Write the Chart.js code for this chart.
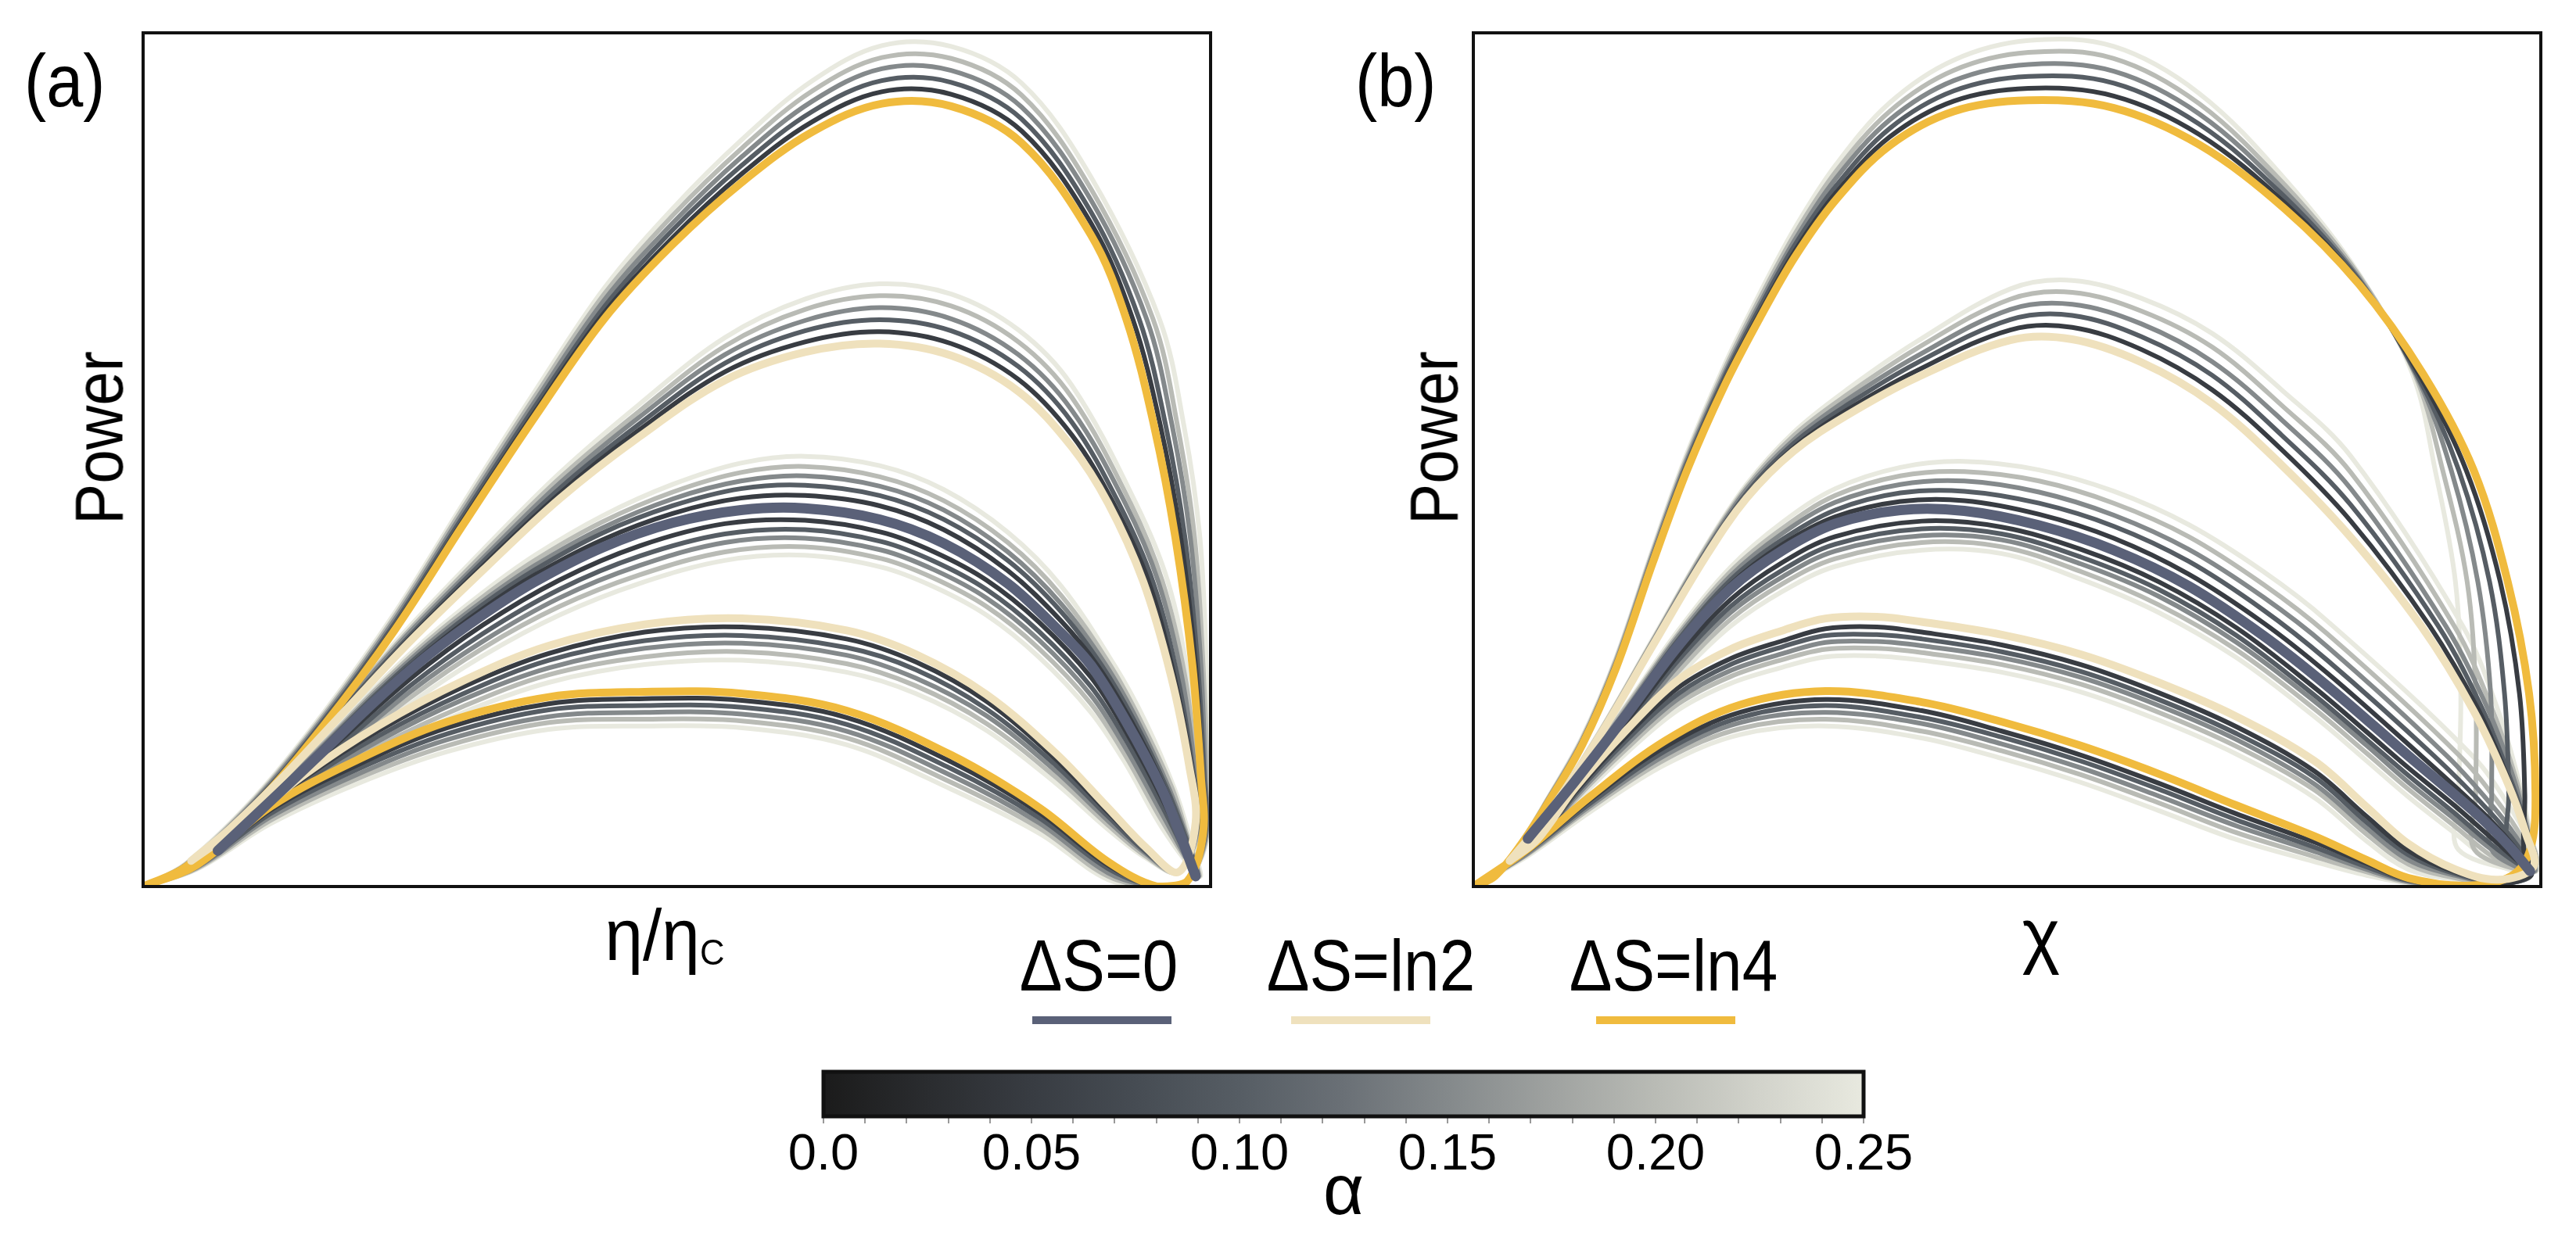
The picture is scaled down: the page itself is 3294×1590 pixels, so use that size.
<!DOCTYPE html>
<html>
<head>
<meta charset="utf-8">
<title>Power</title>
<script src="https://cdn.jsdelivr.net/npm/chart.js@4.4.1/dist/chart.umd.min.js"></script>
<style>
  html, body { margin: 0; padding: 0; background: #fff; }
  body { position: relative; width: 3294px; height: 1590px; overflow: hidden;
         font-family: "Liberation Sans", Arial, sans-serif; color: #000; }
  canvas { position: absolute; }
  .txt { position: absolute; white-space: nowrap; line-height: 1; }
  .key { position: absolute; height: 10px; }
</style>
</head>
<body>
<canvas id="panelA" width="1650" height="1180" style="left:0;top:0"></canvas>
<canvas id="panelB" width="1644" height="1180" style="left:1650px;top:0"></canvas>
<canvas id="cbar" width="1450" height="250" style="left:1000px;top:1340px"></canvas>

<div class="txt" style="left:31px;top:57px;font-size:94px;transform-origin:left center;transform:scaleX(0.9)">(a)</div>
<div class="txt" style="left:1733px;top:57px;font-size:94px;transform-origin:left center;transform:scaleX(0.9)">(b)</div>
<div class="txt" style="left:126px;top:560px;font-size:87px;transform:translate(-50%,-50%) rotate(-90deg) scaleX(0.9)">Power</div>
<div class="txt" style="left:1833px;top:560px;font-size:87px;transform:translate(-50%,-50%) rotate(-90deg) scaleX(0.9)">Power</div>
<div class="txt" style="left:850px;top:1150px;font-size:92px;transform:translateX(-50%) scaleX(0.95)">η/η<span style="font-size:0.5em;vertical-align:-0.12em">C</span></div>
<div class="txt" style="left:2610px;top:1150px;font-size:92px;transform:translateX(-50%)">χ</div>
<div id="legend"></div>

<script>
// alpha values of the grey curves, colour scale of the bar
const ALPHAS = [0, 0.05, 0.10, 0.15, 0.20, 0.25];
const CMAP_STOPS = [0, 0.025, 0.05, 0.075, 0.10, 0.125, 0.15, 0.175, 0.20, 0.225, 0.25];
const CMAP = ['#1b1b1b', '#2a2c2f', '#383c42', '#464c53', '#565d64', '#6a7076',
              '#84898b', '#9fa2a0', '#b9bbb5', '#d2d3cb', '#e8e9df'];
const TICK_LABELS = ['0.0', '0.05', '0.10', '0.15', '0.20', '0.25'];
const DS_LABELS = ['ΔS=0', 'ΔS=ln2', 'ΔS=ln4'];
const DS_COLORS = ['#5a6178', '#efe1bd', '#f0bb3e'];

// every curve is a loop: vertex -> upper branch (y at ux) -> steep part (x at sy) -> lower branch (y at lx) -> vertex
// row 0 is alpha = 0 (coloured), rows 1..5 are alpha = 0.05 .. 0.25

// ---- panel (a), x = eta/eta_C ----
const A0_V = [0.070, 0.042];
const A0_UX = [0.121, 0.170, 0.219, 0.268, 0.318, 0.367, 0.430, 0.496, 0.560, 0.620, 0.690, 0.750, 0.810, 0.860];
const A0_UY = [
  [0.102, 0.160, 0.219, 0.272, 0.318, 0.357, 0.397, 0.426, 0.441, 0.443, 0.430, 0.402, 0.355, 0.297],
  [0.104, 0.163, 0.223, 0.277, 0.325, 0.365, 0.406, 0.437, 0.455, 0.458, 0.446, 0.418, 0.370, 0.311],
  [0.105, 0.165, 0.226, 0.281, 0.330, 0.371, 0.414, 0.446, 0.466, 0.470, 0.458, 0.430, 0.382, 0.322],
  [0.106, 0.167, 0.229, 0.285, 0.334, 0.376, 0.420, 0.454, 0.475, 0.481, 0.469, 0.441, 0.392, 0.331],
  [0.107, 0.169, 0.232, 0.289, 0.339, 0.382, 0.427, 0.462, 0.485, 0.492, 0.480, 0.452, 0.403, 0.341],
  [0.108, 0.171, 0.235, 0.293, 0.344, 0.388, 0.434, 0.471, 0.496, 0.504, 0.493, 0.465, 0.415, 0.352]];
const A0_SY = [0.259, 0.193, 0.115, 0.056, 0.012];
const A0_SX = [
  [0.888, 0.921, 0.954, 0.973, 0.986],
  [0.894, 0.926, 0.957, 0.975, 0.987],
  [0.898, 0.929, 0.959, 0.977, 0.988],
  [0.902, 0.932, 0.961, 0.978, 0.988],
  [0.906, 0.935, 0.964, 0.979, 0.989],
  [0.910, 0.939, 0.966, 0.981, 0.990]];
const A0_LX = [0.955, 0.920, 0.888, 0.839, 0.790, 0.741, 0.692, 0.620, 0.545, 0.465, 0.390, 0.318, 0.250, 0.180, 0.121];
const A0_LY = [
  null,
  [0.102, 0.183, 0.245, 0.310, 0.359, 0.392, 0.415, 0.429, 0.425, 0.399, 0.359, 0.306, 0.243, 0.166, 0.099],
  [0.093, 0.173, 0.234, 0.299, 0.348, 0.381, 0.404, 0.418, 0.413, 0.387, 0.348, 0.296, 0.235, 0.160, 0.096],
  [0.084, 0.163, 0.224, 0.289, 0.338, 0.371, 0.394, 0.408, 0.403, 0.376, 0.338, 0.287, 0.228, 0.155, 0.093],
  [0.076, 0.154, 0.214, 0.279, 0.328, 0.361, 0.384, 0.398, 0.392, 0.365, 0.328, 0.279, 0.221, 0.151, 0.091],
  [0.068, 0.145, 0.204, 0.269, 0.318, 0.351, 0.374, 0.388, 0.382, 0.355, 0.318, 0.270, 0.214, 0.146, 0.088]];

const A2_V = [0.045, 0.030];
const A2_UX = [0.080, 0.130, 0.190, 0.250, 0.318, 0.390, 0.465, 0.545, 0.620, 0.690, 0.757, 0.820, 0.870];
const A2_UY = [
  [0.066, 0.127, 0.207, 0.287, 0.370, 0.454, 0.527, 0.593, 0.626, 0.636, 0.622, 0.580, 0.515],
  [0.067, 0.129, 0.210, 0.291, 0.375, 0.460, 0.535, 0.603, 0.638, 0.650, 0.636, 0.594, 0.529],
  [0.067, 0.130, 0.212, 0.294, 0.380, 0.466, 0.542, 0.613, 0.651, 0.664, 0.651, 0.609, 0.544],
  [0.068, 0.132, 0.215, 0.298, 0.384, 0.472, 0.550, 0.623, 0.663, 0.678, 0.665, 0.623, 0.558],
  [0.068, 0.133, 0.217, 0.301, 0.389, 0.478, 0.557, 0.633, 0.676, 0.692, 0.680, 0.638, 0.573],
  [0.069, 0.135, 0.220, 0.305, 0.394, 0.484, 0.565, 0.643, 0.688, 0.706, 0.694, 0.652, 0.587]];
const A2_SY = [0.449, 0.357, 0.246, 0.141, 0.075];
const A2_SX = [
  [0.904, 0.937, 0.963, 0.980, 0.986],
  [0.909, 0.942, 0.966, 0.982, 0.987],
  [0.914, 0.946, 0.969, 0.983, 0.988],
  [0.920, 0.951, 0.973, 0.985, 0.989],
  [0.925, 0.955, 0.976, 0.986, 0.990],
  [0.930, 0.960, 0.979, 0.988, 0.991]];
const A2_LX = [0.970, 0.940, 0.904, 0.855, 0.790, 0.724, 0.659, 0.561, 0.470, 0.380, 0.300, 0.220, 0.150, 0.090];
const A2_LY = [
  [0.017, 0.045, 0.092, 0.156, 0.225, 0.272, 0.300, 0.314, 0.307, 0.282, 0.241, 0.188, 0.130, 0.070],
  [0.017, 0.043, 0.087, 0.149, 0.217, 0.263, 0.290, 0.304, 0.298, 0.273, 0.234, 0.182, 0.126, 0.068],
  [0.017, 0.040, 0.082, 0.142, 0.208, 0.254, 0.280, 0.294, 0.288, 0.265, 0.226, 0.176, 0.122, 0.066],
  [0.017, 0.038, 0.077, 0.135, 0.200, 0.244, 0.271, 0.285, 0.279, 0.256, 0.219, 0.170, 0.117, 0.064],
  [0.017, 0.035, 0.072, 0.128, 0.191, 0.235, 0.261, 0.275, 0.269, 0.248, 0.211, 0.164, 0.113, 0.062],
  [0.017, 0.033, 0.067, 0.121, 0.183, 0.226, 0.251, 0.265, 0.260, 0.239, 0.204, 0.158, 0.109, 0.060]];

const A4_V = [0, 0];
const A4_UX = [0.040, 0.105, 0.170, 0.236, 0.301, 0.367, 0.432, 0.496, 0.561, 0.627, 0.692, 0.757, 0.823, 0.888];
const A4_UY = [
  [0.023, 0.095, 0.190, 0.301, 0.426, 0.550, 0.665, 0.752, 0.825, 0.884, 0.917, 0.914, 0.871, 0.763],
  [0.024, 0.097, 0.193, 0.305, 0.431, 0.556, 0.672, 0.760, 0.835, 0.896, 0.931, 0.928, 0.885, 0.777],
  [0.025, 0.099, 0.196, 0.309, 0.436, 0.562, 0.679, 0.769, 0.845, 0.908, 0.944, 0.942, 0.899, 0.790],
  [0.025, 0.101, 0.199, 0.313, 0.441, 0.568, 0.687, 0.777, 0.855, 0.920, 0.958, 0.956, 0.913, 0.804],
  [0.026, 0.103, 0.202, 0.317, 0.446, 0.574, 0.694, 0.786, 0.865, 0.932, 0.971, 0.970, 0.927, 0.817],
  [0.027, 0.105, 0.205, 0.321, 0.451, 0.580, 0.701, 0.794, 0.875, 0.944, 0.985, 0.984, 0.941, 0.831]];
const A4_SY = [0.665, 0.540, 0.409, 0.259, 0.128, 0.062];
const A4_SX = [
  [0.921, 0.947, 0.967, 0.983, 0.991, 0.993],
  [0.927, 0.953, 0.972, 0.986, 0.992, 0.994],
  [0.933, 0.958, 0.976, 0.988, 0.994, 0.995],
  [0.940, 0.964, 0.981, 0.991, 0.995, 0.996],
  [0.946, 0.969, 0.985, 0.993, 0.997, 0.997],
  [0.952, 0.975, 0.990, 0.996, 0.998, 0.998]];
const A4_LX = [0.978, 0.950, 0.904, 0.840, 0.757, 0.659, 0.561, 0.470, 0.380, 0.285, 0.200, 0.120, 0.050];
const A4_LY = [
  [0.006, 0.000, 0.029, 0.092, 0.154, 0.206, 0.226, 0.228, 0.222, 0.193, 0.148, 0.094, 0.025],
  [0.006, 0.000, 0.025, 0.086, 0.146, 0.198, 0.218, 0.220, 0.214, 0.186, 0.142, 0.090, 0.024],
  [0.006, 0.000, 0.021, 0.080, 0.138, 0.190, 0.210, 0.212, 0.207, 0.179, 0.137, 0.086, 0.023],
  [0.006, 0.000, 0.016, 0.074, 0.130, 0.182, 0.202, 0.204, 0.199, 0.172, 0.131, 0.082, 0.022],
  [0.006, 0.000, 0.012, 0.068, 0.122, 0.174, 0.194, 0.196, 0.192, 0.165, 0.126, 0.078, 0.021],
  [0.006, 0.000, 0.008, 0.062, 0.114, 0.166, 0.186, 0.188, 0.184, 0.158, 0.120, 0.074, 0.020]];

// ---- panel (b), x = chi ----
const B0_V = [0.051, 0.056];
const B0_UX = [0.095, 0.144, 0.192, 0.241, 0.290, 0.339, 0.400, 0.460, 0.530, 0.600, 0.670, 0.740, 0.800];
const B0_UY = [
  [0.123, 0.202, 0.282, 0.349, 0.394, 0.425, 0.441, 0.440, 0.423, 0.394, 0.352, 0.294, 0.235],
  [0.124, 0.204, 0.286, 0.354, 0.401, 0.433, 0.451, 0.452, 0.436, 0.408, 0.366, 0.309, 0.250],
  [0.125, 0.207, 0.289, 0.359, 0.407, 0.441, 0.461, 0.463, 0.449, 0.422, 0.381, 0.324, 0.265],
  [0.127, 0.209, 0.293, 0.364, 0.414, 0.450, 0.471, 0.475, 0.462, 0.435, 0.395, 0.339, 0.281],
  [0.128, 0.212, 0.296, 0.369, 0.420, 0.458, 0.481, 0.486, 0.475, 0.449, 0.410, 0.354, 0.296],
  [0.129, 0.214, 0.300, 0.374, 0.427, 0.466, 0.491, 0.498, 0.488, 0.463, 0.424, 0.369, 0.311]];
const B0_SY = [0.153, 0.085, 0.048, 0.018];
const B0_SX = [
  [0.876, 0.940, 0.970, 0.990],
  [0.888, 0.947, 0.974, 0.991],
  [0.900, 0.954, 0.978, 0.992],
  [0.912, 0.961, 0.982, 0.994],
  [0.924, 0.968, 0.986, 0.995],
  [0.936, 0.975, 0.990, 0.996]];
const B0_LX = [0.960, 0.920, 0.876, 0.837, 0.788, 0.715, 0.642, 0.569, 0.495, 0.420, 0.339, 0.290, 0.241, 0.192, 0.144, 0.095];
const B0_LY = [
  null,
  [0.050, 0.094, 0.139, 0.181, 0.233, 0.303, 0.357, 0.395, 0.421, 0.428, 0.410, 0.380, 0.336, 0.271, 0.194, 0.119],
  [0.043, 0.085, 0.130, 0.172, 0.224, 0.294, 0.348, 0.386, 0.413, 0.419, 0.401, 0.371, 0.328, 0.265, 0.190, 0.116],
  [0.038, 0.078, 0.122, 0.165, 0.217, 0.286, 0.340, 0.378, 0.406, 0.411, 0.393, 0.363, 0.321, 0.259, 0.185, 0.114],
  [0.031, 0.070, 0.114, 0.156, 0.208, 0.277, 0.330, 0.369, 0.398, 0.403, 0.384, 0.355, 0.313, 0.252, 0.181, 0.112],
  [0.025, 0.062, 0.105, 0.147, 0.199, 0.268, 0.321, 0.360, 0.390, 0.394, 0.375, 0.346, 0.305, 0.246, 0.176, 0.109]];

const B2_V = [0.034, 0.030];
const B2_UX = [0.070, 0.119, 0.168, 0.217, 0.256, 0.300, 0.350, 0.415, 0.503, 0.561, 0.626, 0.692, 0.757, 0.822];
const B2_UY = [
  [0.085, 0.178, 0.282, 0.385, 0.455, 0.510, 0.552, 0.596, 0.640, 0.641, 0.614, 0.566, 0.494, 0.409],
  [0.085, 0.179, 0.284, 0.387, 0.458, 0.514, 0.558, 0.604, 0.652, 0.655, 0.629, 0.582, 0.512, 0.428],
  [0.086, 0.180, 0.285, 0.390, 0.461, 0.519, 0.564, 0.613, 0.664, 0.669, 0.644, 0.599, 0.529, 0.447],
  [0.086, 0.181, 0.287, 0.392, 0.465, 0.523, 0.570, 0.621, 0.676, 0.682, 0.659, 0.615, 0.547, 0.466],
  [0.087, 0.182, 0.288, 0.395, 0.468, 0.528, 0.576, 0.630, 0.688, 0.696, 0.674, 0.632, 0.564, 0.485],
  [0.087, 0.183, 0.290, 0.397, 0.471, 0.532, 0.582, 0.638, 0.700, 0.710, 0.689, 0.648, 0.582, 0.504]];
const B2_SY = [0.305, 0.206, 0.121, 0.062, 0.023];
const B2_SX = [
  [0.888, 0.937, 0.969, 0.986, 0.993],
  [0.896, 0.942, 0.971, 0.987, 0.993],
  [0.904, 0.946, 0.973, 0.988, 0.994],
  [0.911, 0.951, 0.976, 0.988, 0.994],
  [0.919, 0.955, 0.978, 0.989, 0.995],
  [0.927, 0.960, 0.980, 0.990, 0.995]];
const B2_LX = [0.960, 0.920, 0.876, 0.837, 0.788, 0.715, 0.642, 0.569, 0.495, 0.420, 0.378, 0.330, 0.290, 0.241, 0.192, 0.144, 0.095, 0.060];
const B2_LY = [
  [0.008, 0.020, 0.050, 0.093, 0.147, 0.199, 0.239, 0.272, 0.295, 0.310, 0.316, 0.314, 0.300, 0.278, 0.242, 0.184, 0.115, 0.055],
  [0.007, 0.017, 0.042, 0.082, 0.135, 0.187, 0.227, 0.260, 0.283, 0.298, 0.304, 0.302, 0.288, 0.267, 0.233, 0.177, 0.110, 0.053],
  [0.006, 0.015, 0.037, 0.075, 0.128, 0.179, 0.219, 0.252, 0.275, 0.290, 0.295, 0.294, 0.281, 0.260, 0.226, 0.172, 0.107, 0.051],
  [0.005, 0.013, 0.031, 0.068, 0.120, 0.172, 0.212, 0.245, 0.268, 0.282, 0.287, 0.286, 0.273, 0.253, 0.220, 0.167, 0.104, 0.050],
  [0.004, 0.010, 0.026, 0.061, 0.113, 0.164, 0.204, 0.237, 0.260, 0.274, 0.279, 0.278, 0.266, 0.246, 0.214, 0.162, 0.101, 0.049],
  [0.003, 0.008, 0.020, 0.053, 0.104, 0.155, 0.195, 0.228, 0.251, 0.265, 0.270, 0.269, 0.257, 0.238, 0.207, 0.157, 0.097, 0.047]];

const B4_V = [0, 0];
const B4_UX = [0.020, 0.045, 0.070, 0.102, 0.134, 0.168, 0.200, 0.235, 0.268, 0.301, 0.340, 0.390, 0.450, 0.520, 0.600, 0.680, 0.760, 0.830];
const B4_UY = [
  [0.012, 0.050, 0.098, 0.166, 0.257, 0.379, 0.487, 0.586, 0.665, 0.737, 0.805, 0.868, 0.908, 0.921, 0.912, 0.869, 0.794, 0.705],
  [0.012, 0.051, 0.099, 0.168, 0.259, 0.382, 0.491, 0.591, 0.671, 0.744, 0.813, 0.878, 0.920, 0.935, 0.926, 0.881, 0.801, 0.707],
  [0.012, 0.051, 0.100, 0.170, 0.262, 0.385, 0.495, 0.596, 0.677, 0.751, 0.821, 0.888, 0.932, 0.949, 0.941, 0.893, 0.808, 0.710],
  [0.013, 0.052, 0.102, 0.171, 0.264, 0.389, 0.499, 0.600, 0.682, 0.757, 0.830, 0.898, 0.944, 0.963, 0.955, 0.905, 0.815, 0.712],
  [0.013, 0.052, 0.103, 0.173, 0.267, 0.392, 0.503, 0.605, 0.688, 0.764, 0.838, 0.908, 0.956, 0.977, 0.970, 0.917, 0.822, 0.715],
  [0.013, 0.053, 0.104, 0.175, 0.269, 0.395, 0.507, 0.610, 0.694, 0.771, 0.846, 0.918, 0.968, 0.991, 0.984, 0.929, 0.829, 0.717]];
const B4_SY = [0.600, 0.488, 0.357, 0.226, 0.108, 0.043, 0.012];
const B4_SX = [
  [0.890, 0.937, 0.969, 0.989, 0.995, 0.990, 0.972],
  [0.886, 0.930, 0.962, 0.980, 0.985, 0.984, 0.990],
  [0.884, 0.923, 0.952, 0.966, 0.970, 0.969, 0.990],
  [0.883, 0.916, 0.941, 0.953, 0.954, 0.954, 0.990],
  [0.882, 0.908, 0.931, 0.939, 0.939, 0.938, 0.990],
  [0.880, 0.901, 0.920, 0.925, 0.923, 0.923, 0.990]];
const B4_LX = [0.930, 0.876, 0.837, 0.788, 0.715, 0.642, 0.569, 0.495, 0.420, 0.330, 0.250, 0.180, 0.110, 0.050];
const B4_LY = [
  [0.001, 0.010, 0.031, 0.059, 0.095, 0.132, 0.165, 0.193, 0.216, 0.229, 0.213, 0.171, 0.106, 0.043],
  [0.001, 0.008, 0.027, 0.052, 0.085, 0.121, 0.154, 0.182, 0.206, 0.219, 0.204, 0.164, 0.102, 0.041],
  [0.001, 0.007, 0.023, 0.046, 0.078, 0.114, 0.147, 0.175, 0.198, 0.212, 0.198, 0.159, 0.098, 0.040],
  [0.001, 0.006, 0.020, 0.041, 0.071, 0.106, 0.139, 0.167, 0.191, 0.204, 0.192, 0.154, 0.095, 0.038],
  [0.001, 0.005, 0.017, 0.035, 0.063, 0.098, 0.131, 0.159, 0.182, 0.196, 0.185, 0.149, 0.092, 0.037],
  [0.001, 0.004, 0.013, 0.029, 0.055, 0.089, 0.122, 0.150, 0.174, 0.188, 0.178, 0.143, 0.088, 0.035]];

// styles
const DS_WIDTH = [13, 10, 10];
const GREY_WIDTH = 6;
const FONT = '"Liberation Sans", Arial, sans-serif';

function loop(f, k) {
  const pts = [{ x: f.v[0], y: f.v[1] }];
  f.ux.forEach((x, i) => pts.push({ x: x, y: f.uy[k][i] }));
  f.sy.forEach((y, i) => pts.push({ x: f.sx[k][i], y: y }));
  if (f.ly[k]) {
    f.lx.forEach((x, i) => pts.push({ x: x, y: f.ly[k][i] }));
    pts.push({ x: f.v[0], y: f.v[1] });
  }
  return pts;
}

const framePlugin = {
  id: 'frame',
  afterDraw(chart) {
    const { ctx, chartArea: { left, top, right, bottom } } = chart;
    ctx.save();
    ctx.lineWidth = chart.options.plugins.frame.width;
    ctx.strokeStyle = '#111';
    ctx.strokeRect(left, top, right - left, bottom - top);
    ctx.restore();
  }
};

function panel(id, families, pad) {
  const datasets = [];
  families.forEach(f => {
    for (let k = ALPHAS.length - 1; k >= 0; k--) {
      const colored = k === 0;
      datasets.push({
        label: DS_LABELS[f.ds] + ' α=' + ALPHAS[k],
        data: loop(f, k),
        borderColor: colored ? DS_COLORS[f.ds] : CMAP[2 * k],
        borderWidth: colored ? DS_WIDTH[f.ds] : GREY_WIDTH,
        borderCapStyle: 'round',
        borderJoinStyle: 'round',
        tension: 0.35,
        pointRadius: 0,
        fill: false,
        order: colored ? 0 : k
      });
    }
  });
  return new Chart(document.getElementById(id), {
    type: 'line',
    data: { datasets },
    options: {
      responsive: false,
      devicePixelRatio: 1,
      animation: false,
      layout: { padding: pad },
      plugins: { legend: { display: false }, tooltip: { enabled: false }, frame: { width: 4 } },
      scales: {
        x: { type: 'linear', min: 0, max: 1, display: false },
        y: { type: 'linear', min: 0, max: 1, display: false }
      }
    },
    plugins: [framePlugin]
  });
}

panel('panelA', [
  { ds: 0, v: A0_V, ux: A0_UX, uy: A0_UY, sy: A0_SY, sx: A0_SX, lx: A0_LX, ly: A0_LY },
  { ds: 1, v: A2_V, ux: A2_UX, uy: A2_UY, sy: A2_SY, sx: A2_SX, lx: A2_LX, ly: A2_LY },
  { ds: 2, v: A4_V, ux: A4_UX, uy: A4_UY, sy: A4_SY, sx: A4_SX, lx: A4_LX, ly: A4_LY }
], { left: 183, top: 42, right: 102, bottom: 46 });

panel('panelB', [
  { ds: 0, v: B0_V, ux: B0_UX, uy: B0_UY, sy: B0_SY, sx: B0_SX, lx: B0_LX, ly: B0_LY },
  { ds: 1, v: B2_V, ux: B2_UX, uy: B2_UY, sy: B2_SY, sx: B2_SX, lx: B2_LX, ly: B2_LY },
  { ds: 2, v: B4_V, ux: B4_UX, uy: B4_UY, sy: B4_SY, sx: B4_SX, lx: B4_LX, ly: B4_LY }
], { left: 234, top: 42, right: 45, bottom: 46 });

// colour bar for alpha
const gradientPlugin = {
  id: 'gradient',
  beforeDatasetsDraw(chart) {
    const { ctx, chartArea: ca, scales: { x } } = chart;
    const g = ctx.createLinearGradient(ca.left, 0, ca.right, 0);
    CMAP_STOPS.forEach((v, i) => {
      g.addColorStop((x.getPixelForValue(v) - ca.left) / (ca.right - ca.left), CMAP[i]);
    });
    ctx.save();
    ctx.fillStyle = g;
    ctx.fillRect(ca.left, ca.top, ca.right - ca.left, ca.bottom - ca.top);
    ctx.restore();
  }
};

new Chart(document.getElementById('cbar'), {
  type: 'line',
  data: { datasets: [] },
  options: {
    responsive: false,
    devicePixelRatio: 1,
    animation: false,
    layout: { padding: { left: 53, right: 67, top: 31, bottom: 0 } },
    plugins: { legend: { display: false }, tooltip: { enabled: false }, frame: { width: 5 } },
    scales: {
      x: {
        type: 'linear', min: 0, max: 0.25, position: 'bottom',
        afterFit(scale) { scale.height = 162; },
        border: { display: false },
        grid: { drawOnChartArea: false, drawTicks: true, tickLength: 9, color: '#999', lineWidth: 2 },
        ticks: {
          stepSize: 0.01, autoSkip: false, maxRotation: 0, padding: 2, color: '#000',
          font: { family: FONT, size: 65 },
          callback(v) {
            const i = Math.round(v * 100);
            return i % 5 === 0 ? TICK_LABELS[i / 5] : '';
          }
        },
        title: { display: true, text: 'α', color: '#000', font: { family: FONT, size: 90 }, padding: { top: 0, bottom: 8 } }
      },
      y: { type: 'linear', min: 0, max: 1, display: false }
    }
  },
  plugins: [gradientPlugin, framePlugin]
});

// legend: label above a short line sample
const LEGEND_TEXT_X = [1405, 1753, 2140];
const LEGEND_LINE_X = [1320, 1651, 2041];
const legend = document.getElementById('legend');
DS_LABELS.forEach((lab, i) => {
  const t = document.createElement('div');
  t.className = 'txt';
  t.textContent = lab;
  t.style.cssText = 'left:' + LEGEND_TEXT_X[i] + 'px;top:1189px;font-size:92px;transform:translateX(-50%) scaleX(0.89)';
  legend.appendChild(t);
  const l = document.createElement('div');
  l.className = 'key';
  l.style.cssText = 'left:' + LEGEND_LINE_X[i] + 'px;top:1300px;width:178px;background:' + DS_COLORS[i];
  legend.appendChild(l);
});
</script>
</body>
</html>
